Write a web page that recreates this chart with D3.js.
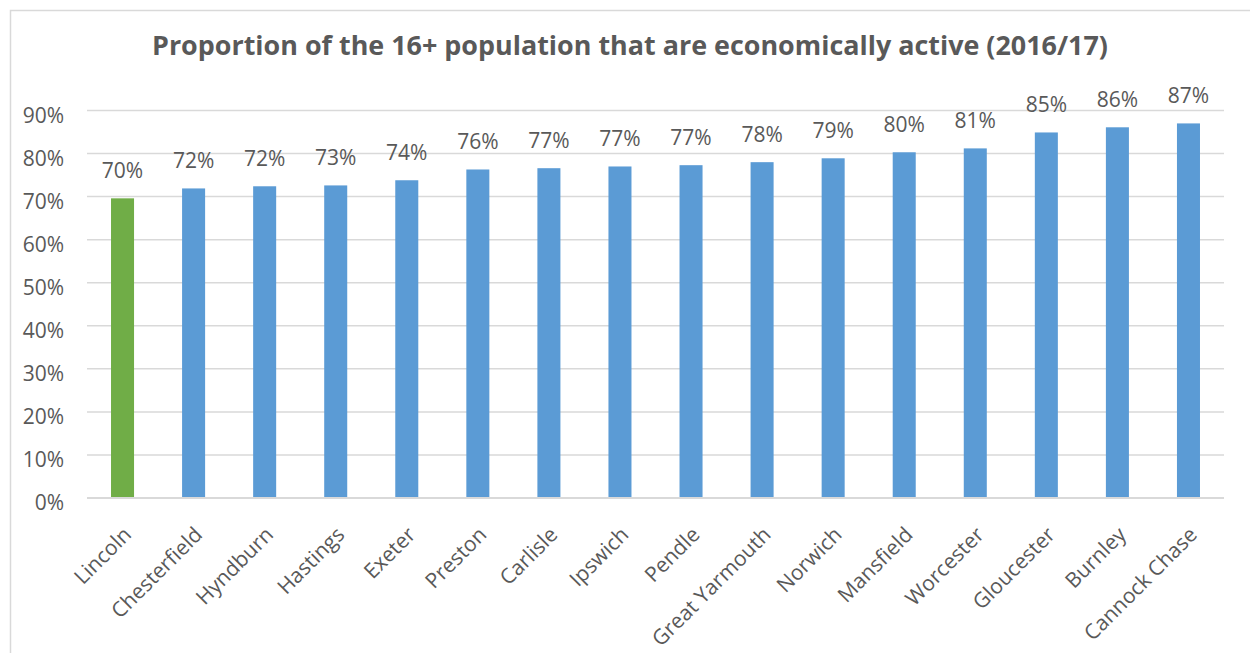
<!DOCTYPE html>
<html>
<head>
<meta charset="utf-8">
<script src="https://cdn.jsdelivr.net/npm/d3@7"></script>
<style>
  html, body { margin: 0; padding: 0; background: #ffffff; }
  svg { display: block; }
  text { font-family: "Open Sans", "Liberation Sans", sans-serif; fill: #595959; }
</style>
</head>
<body>
<svg id="chart" width="1250" height="653"></svg>
<script>
// Economic activity rate of the 16+ population, 2016/17
const categories = ["Lincoln", "Chesterfield", "Hyndburn", "Hastings", "Exeter", "Preston",
  "Carlisle", "Ipswich", "Pendle", "Great Yarmouth", "Norwich", "Mansfield", "Worcester",
  "Gloucester", "Burnley", "Cannock Chase"];
const activeRate = [0.696, 0.719, 0.724, 0.726, 0.738, 0.763, 0.766, 0.770, 0.773, 0.780,
  0.789, 0.803, 0.812, 0.849, 0.861, 0.870];
const highlighted = ["Lincoln"];
const yTicks = [0, 0.1, 0.2, 0.3, 0.4, 0.5, 0.6, 0.7, 0.8, 0.9];
const titleText = "Proportion of the 16+ population that are economically active (2016/17)";

const svg = d3.select("#chart");
const W = 1250, H = 653;
const plot = { left: 87, right: 1224, top: 110.5, bottom: 498 };

// chart frame (extends past the visible area on the right and bottom)
svg.append("rect")
  .attr("x", 10.5).attr("y", 10.5)
  .attr("width", 1300).attr("height", 800)
  .attr("fill", "#ffffff")
  .attr("stroke", "#d9d9d9").attr("stroke-width", 1.5);

const x = d3.scaleBand()
  .domain(categories)
  .range([plot.left, plot.right])
  .paddingInner(0.676)
  .paddingOuter(0.338);

const y = d3.scaleLinear()
  .domain([0, 0.9])
  .range([plot.bottom, plot.top]);

const pct = d3.format(".0%");

// horizontal gridlines
svg.append("g")
  .selectAll("line")
  .data(yTicks)
  .join("line")
  .attr("x1", plot.left).attr("x2", plot.right)
  .attr("y1", d => y(d)).attr("y2", d => y(d))
  .attr("stroke", "#d9d9d9")
  .attr("stroke-width", 1.5);

// y axis labels
const yAxis = d3.axisLeft(y).tickValues(yTicks).tickFormat(pct).tickSize(0).tickPadding(0);
const gy = svg.append("g").attr("transform", "translate(64,0)").call(yAxis);
gy.select(".domain").remove();
gy.selectAll("text")
  .attr("dy", 11.5)
  .style("font-size", "21px")
  .style("fill", "#595959")
  .style("font-family", "'Open Sans', sans-serif");

// bars
const data = categories.map((c, i) => ({ cat: c, value: activeRate[i] }));
svg.append("g")
  .selectAll("rect")
  .data(data)
  .join("rect")
  .attr("x", d => x(d.cat))
  .attr("width", x.bandwidth())
  .attr("y", d => y(d.value))
  .attr("height", d => y(0) - y(d.value))
  .attr("fill", d => highlighted.includes(d.cat) ? "#70ad47" : "#5b9bd5");

// baseline
svg.append("line")
  .attr("x1", plot.left).attr("x2", plot.right)
  .attr("y1", y(0)).attr("y2", y(0))
  .attr("stroke", "#d9d9d9").attr("stroke-width", 2);

// value labels
svg.append("g")
  .selectAll("text")
  .data(data)
  .join("text")
  .attr("x", d => x(d.cat) + x.bandwidth() / 2)
  .attr("y", d => y(d.value) - 20)
  .attr("text-anchor", "middle")
  .style("font-size", "21px")
  .text(d => pct(d.value));

// category labels, rotated
const xAxis = d3.axisBottom(x).tickSize(0).tickPadding(0);
const gx = svg.append("g").attr("transform", `translate(0,${plot.bottom})`).call(xAxis);
gx.select(".domain").remove();
gx.selectAll("text")
  .attr("text-anchor", "end")
  .attr("dy", 0)
  .attr("transform", "translate(10,38) rotate(-45)")
  .style("font-size", "21px")
  .style("fill", "#595959")
  .style("font-family", "'Open Sans', sans-serif");

// title
const title = svg.append("text")
  .attr("x", 630)
  .attr("y", 55)
  .attr("text-anchor", "middle")
  .style("font-size", "27px")
  .style("font-weight", "bold")
  .text(titleText);
const tw = title.node().getComputedTextLength();
if (tw > 956) {
  title.attr("textLength", 956).attr("lengthAdjust", "spacingAndGlyphs");
}
</script>
</body>
</html>
